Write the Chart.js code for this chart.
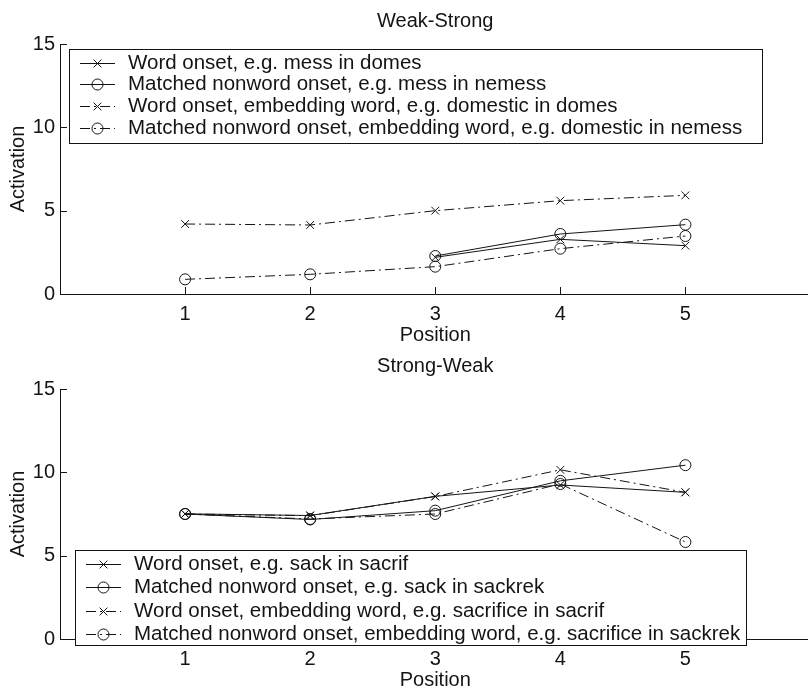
<!DOCTYPE html>
<html>
<head>
<meta charset="utf-8">
<script src="https://cdn.jsdelivr.net/npm/chart.js@4.4.0/dist/chart.umd.min.js"></script>
<style>
  html, body { margin: 0; padding: 0; overflow: hidden; background: #fff; }
  .panel { position: absolute; left: 0; width: 817px; height: 345px; }
</style>
</head>
<body>
<div class="panel" style="top:0"><canvas id="weakStrong"></canvas></div>
<div class="panel" style="top:345px"><canvas id="strongWeak"></canvas></div>
<script>
// x positions and axis ticks
const positions = [1, 2, 3, 4, 5];
const xTicks = [1, 2, 3, 4, 5];
const yTicks = [0, 5, 10, 15];

// Weak-Strong panel
const wsLabels = [
  'Word onset, e.g. mess in domes',
  'Matched nonword onset, e.g. mess in nemess',
  'Word onset, embedding word, e.g. domestic in domes',
  'Matched nonword onset, embedding word, e.g. domestic in nemess'
];
const wsWord = [null, null, 2.2, 3.28, 2.9];
const wsNonword = [null, null, 2.28, 3.6, 4.16];
const wsEmbWord = [4.2, 4.14, 5.0, 5.6, 5.92];
const wsEmbNonword = [0.88, 1.18, 1.64, 2.72, 3.48];

// Strong-Weak panel
const swLabels = [
  'Word onset, e.g. sack in sacrif',
  'Matched nonword onset, e.g. sack in sackrek',
  'Word onset, embedding word, e.g. sacrifice in sacrif',
  'Matched nonword onset, embedding word, e.g. sacrifice in sackrek'
];
const swWord = [7.51, 7.41, 8.56, 9.24, 8.8];
const swNonword = [7.5, 7.17, 7.7, 9.49, 10.43];
const swEmbWord = [7.5, 7.4, 8.55, 10.15, 8.8];
const swEmbNonword = [7.5, 7.2, 7.5, 9.3, 5.82];

const INK = '#141414';
const FAMILY = "'Liberation Sans', Arial, Helvetica, sans-serif";
const DASHDOT = [10, 4, 2, 4];

Chart.defaults.font.family = FAMILY;
Chart.defaults.font.size = 20;
Chart.defaults.color = INK;

// MATLAB style ticks pointing into the axes
const inwardTicks = {
  id: 'inwardTicks',
  afterDatasetsDraw(chart) {
    const { ctx, chartArea: a, scales: { x, y } } = chart;
    ctx.save();
    ctx.strokeStyle = INK;
    ctx.lineWidth = 1;
    ctx.beginPath();
    x.ticks.forEach(t => {
      const px = Math.round(x.getPixelForValue(t.value)) + 0.5;
      ctx.moveTo(px, a.bottom);
      ctx.lineTo(px, a.bottom - 7);
    });
    y.ticks.forEach(t => {
      if (t.value === 0) return;
      const py = Math.round(y.getPixelForValue(t.value)) + 0.5;
      ctx.moveTo(a.left, py);
      ctx.lineTo(a.left + 7, py);
    });
    ctx.stroke();
    ctx.restore();
  }
};

function marker(ctx, style, r, cx, cy) {
  ctx.beginPath();
  if (style === 'circle') {
    ctx.arc(cx, cy, r, 0, Math.PI * 2);
  } else {
    const d = r * Math.SQRT1_2;
    ctx.moveTo(cx - d, cy - d); ctx.lineTo(cx + d, cy + d);
    ctx.moveTo(cx - d, cy + d); ctx.lineTo(cx + d, cy - d);
  }
  ctx.stroke();
}

// boxed legend with line sample + marker, drawn over the axes
const boxLegend = {
  id: 'boxLegend',
  afterDraw(chart, args, opts) {
    const { ctx } = chart;
    const { left, top, width, height, first, gap } = opts;
    ctx.save();
    ctx.fillStyle = '#fff';
    ctx.fillRect(left, top, width, height);
    ctx.strokeStyle = INK;
    ctx.lineWidth = 1;
    ctx.strokeRect(left + 0.5, top + 0.5, width, height);
    ctx.font = '20.5px ' + FAMILY;
    ctx.textBaseline = 'middle';
    chart.data.datasets.forEach((ds, i) => {
      const cy = Math.round(top + first + gap * i) + 0.5;
      ctx.setLineDash(ds.borderDash || []);
      ctx.beginPath();
      ctx.moveTo(left + 11, cy);
      ctx.lineTo(left + 46, cy);
      ctx.stroke();
      ctx.setLineDash([]);
      marker(ctx, ds.pointStyle, ds.pointRadius, left + 28.5, cy);
      ctx.fillStyle = INK;
      ctx.fillText(ds.label, left + 59, cy);
    });
    ctx.restore();
  }
};

function series(label, values, style, dashed) {
  return {
    label: label,
    data: positions.map((p, i) => ({ x: p, y: values[i] })),
    borderColor: INK,
    borderWidth: 1,
    borderDash: dashed ? DASHDOT : [],
    pointStyle: style === 'o' ? 'circle' : 'crossRot',
    pointRadius: 5.5,
    pointBorderColor: INK,
    pointBackgroundColor: 'rgba(0,0,0,0)',
    pointBorderWidth: 1,
    tension: 0,
    fill: false
  };
}

function makePanel(id, title, labels, s1, s2, s3, s4, legendBox) {
  return new Chart(document.getElementById(id), {
    type: 'line',
    data: {
      datasets: [
        series(labels[0], s1, 'x', false),
        series(labels[1], s2, 'o', false),
        series(labels[2], s3, 'x', true),
        series(labels[3], s4, 'o', true)
      ]
    },
    options: {
      responsive: true,
      maintainAspectRatio: false,
      animation: false,
      layout: { padding: 0 },
      plugins: {
        legend: { display: false },
        tooltip: { enabled: false },
        title: {
          display: true,
          text: title,
          fullSize: false,
          color: INK,
          font: { size: 20, weight: 'normal', lineHeight: 1.2 },
          padding: { top: 9, bottom: 11 }
        },
        boxLegend: legendBox
      },
      scales: {
        x: {
          type: 'linear',
          min: 0,
          max: 6,
          afterBuildTicks: s => { s.ticks = xTicks.map(v => ({ value: v })); },
          afterFit: s => { s.height = 51; },
          grid: { display: false, drawTicks: false },
          border: { display: true, color: INK, width: 1 },
          ticks: { color: INK, padding: 8, font: { size: 20 } },
          title: {
            display: true, text: 'Position', color: INK,
            font: { size: 20, lineHeight: 1 }, padding: { top: 0, bottom: 0 }
          }
        },
        y: {
          min: 0,
          max: 15,
          afterBuildTicks: s => { s.ticks = yTicks.map(v => ({ value: v })); },
          afterFit: s => { s.width = 60; },
          grid: { display: false, drawTicks: false },
          border: { display: true, color: INK, width: 1 },
          ticks: { color: INK, padding: 5, font: { size: 20 } },
          title: {
            display: true, text: 'Activation', color: INK,
            font: { size: 20, lineHeight: 1 }, padding: { top: 8, bottom: 0 }
          }
        }
      }
    },
    plugins: [inwardTicks, boxLegend]
  });
}

makePanel('weakStrong', 'Weak-Strong', wsLabels, wsWord, wsNonword, wsEmbWord, wsEmbNonword,
  { left: 69, top: 49, width: 693, height: 94, first: 13.5, gap: 21.8 });
makePanel('strongWeak', 'Strong-Weak', swLabels, swWord, swNonword, swEmbWord, swEmbNonword,
  { left: 75, top: 205, width: 671, height: 95, first: 14, gap: 23.3 });
</script>
</body>
</html>
